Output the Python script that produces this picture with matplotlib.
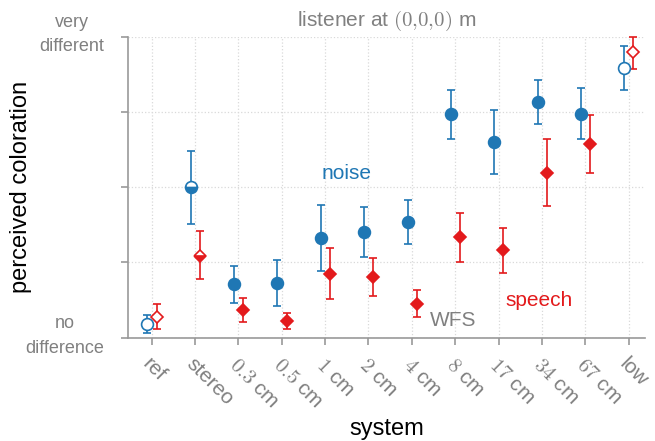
import numpy as np
import matplotlib.pyplot as plt
from matplotlib.transforms import ScaledTranslation

plt.rcParams['font.family'] = ['Liberation Sans', 'DejaVu Sans']
plt.rcParams['mathtext.fontset'] = 'cm'

# systems on the x axis
systems = ['ref', 'stereo', r'$0.3$ cm', r'$0.5$ cm', r'$1$ cm', r'$2$ cm',
           r'$4$ cm', r'$8$ cm', r'$17$ cm', r'$34$ cm', r'$67$ cm', 'low']

# noise ratings (median, lower, upper)
noise_mid = [0.045, 0.500, 0.177, 0.181, 0.330, 0.352, 0.385, 0.742, 0.651, 0.784, 0.744, 0.897]
noise_lo = [0.015, 0.379, 0.114, 0.105, 0.223, 0.269, 0.312, 0.661, 0.545, 0.710, 0.659, 0.823]
noise_hi = [0.075, 0.621, 0.238, 0.258, 0.440, 0.434, 0.459, 0.822, 0.758, 0.856, 0.829, 0.968]

# speech ratings (median, lower, upper)
speech_mid = [0.070, 0.272, 0.091, 0.055, 0.212, 0.202, 0.113, 0.334, 0.290, 0.548, 0.644, 0.950]
speech_lo = [0.029, 0.196, 0.051, 0.028, 0.128, 0.138, 0.068, 0.252, 0.214, 0.437, 0.546, 0.893]
speech_hi = [0.111, 0.355, 0.131, 0.082, 0.298, 0.265, 0.160, 0.415, 0.365, 0.661, 0.741, 1.000]

# marker filling per system
fills = ['none', 'bottom'] + ['full'] * 9 + ['none']

blue = '#1f77b4'
red = '#e31a1c'
gray = '#808080'

fig = plt.figure(figsize=(6.55, 4.41), dpi=100)
ax = fig.add_axes([0.1954, 0.2342, 0.7893, 0.6826])

x = np.arange(len(systems))


def draw(offset, mid, lo, hi, color, marker, ms):
    mid = np.array(mid)
    lo = np.array(lo)
    hi = np.array(hi)
    ax.errorbar(x + offset, mid, yerr=[mid - lo, hi - mid], fmt='none',
                ecolor=color, elinewidth=1.2, capsize=3.2, capthick=1.2,
                clip_on=False, zorder=3)
    for i in range(len(mid)):
        if fills[i] == 'none':
            ax.plot(x[i] + offset, mid[i], marker=marker, ms=ms, mfc='white',
                    mec=color, mew=1.2, clip_on=False, zorder=4)
        elif fills[i] == 'bottom':
            ax.plot(x[i] + offset, mid[i], marker=marker, ms=ms, fillstyle='bottom',
                    mfc=color, mfcalt='white', mec=color, mew=1.2,
                    clip_on=False, zorder=4)
        else:
            ax.plot(x[i] + offset, mid[i], marker=marker, ms=ms, mfc=color,
                    mec=color, mew=1.2, clip_on=False, zorder=4)


draw(-0.1, noise_mid, noise_lo, noise_hi, blue, 'o', 8.5)
draw(0.11, speech_mid, speech_lo, speech_hi, red, 'D', 6.5)

ax.set_xlim(-0.55, 11.38)
ax.set_ylim(0, 1)
ax.set_xticks(x)
ax.set_xticklabels(systems, rotation=-45, ha='left', va='center',
                   rotation_mode='anchor', fontsize=15, color=gray)
ax.set_yticks([0, 0.25, 0.5, 0.75, 1])
ax.set_yticklabels(['no\ndifference', '', '', '', 'very\ndifferent'],
                   fontsize=13, color=gray, multialignment='center', linespacing=1.6)
ax.tick_params(axis='both', length=5, width=1.2, color='#999999')
ax.tick_params(axis='x', pad=12)
ax.tick_params(axis='y', pad=12)

# nudge tick labels like the original layout
for lab in ax.get_xticklabels():
    lab.set_transform(lab.get_transform() + ScaledTranslation(-0.06, 0, fig.dpi_scale_trans))
for lab in ax.get_yticklabels():
    lab.set_transform(lab.get_transform() + ScaledTranslation(0, 0.08, fig.dpi_scale_trans))

ax.grid(True, linestyle=':', color='#d9d9d9', linewidth=0.9)
ax.set_axisbelow(True)
for s in ['top', 'right']:
    ax.spines[s].set_visible(False)
for s in ['left', 'bottom']:
    ax.spines[s].set_color('#999999')
    ax.spines[s].set_linewidth(1.2)

ax.set_title(r'listener at $(0{,}0{,}0)$ m', fontsize=15, color=gray, pad=8)
ax.set_xlabel('system', fontsize=17)
ax.set_ylabel('perceived coloration', fontsize=17)
ax.xaxis.set_label_coords(0.5, -0.266)
ax.yaxis.set_label_coords(-0.186, 0.5)

ax.text(4.5, 0.545, 'noise', color=blue, fontsize=15, ha='center', va='center')
ax.text(8.93, 0.125, 'speech', color=red, fontsize=15, ha='center', va='center')
ax.text(6.95, 0.058, 'WFS', color=gray, fontsize=15, ha='center', va='center')

fig.savefig('out.png', dpi=100)
